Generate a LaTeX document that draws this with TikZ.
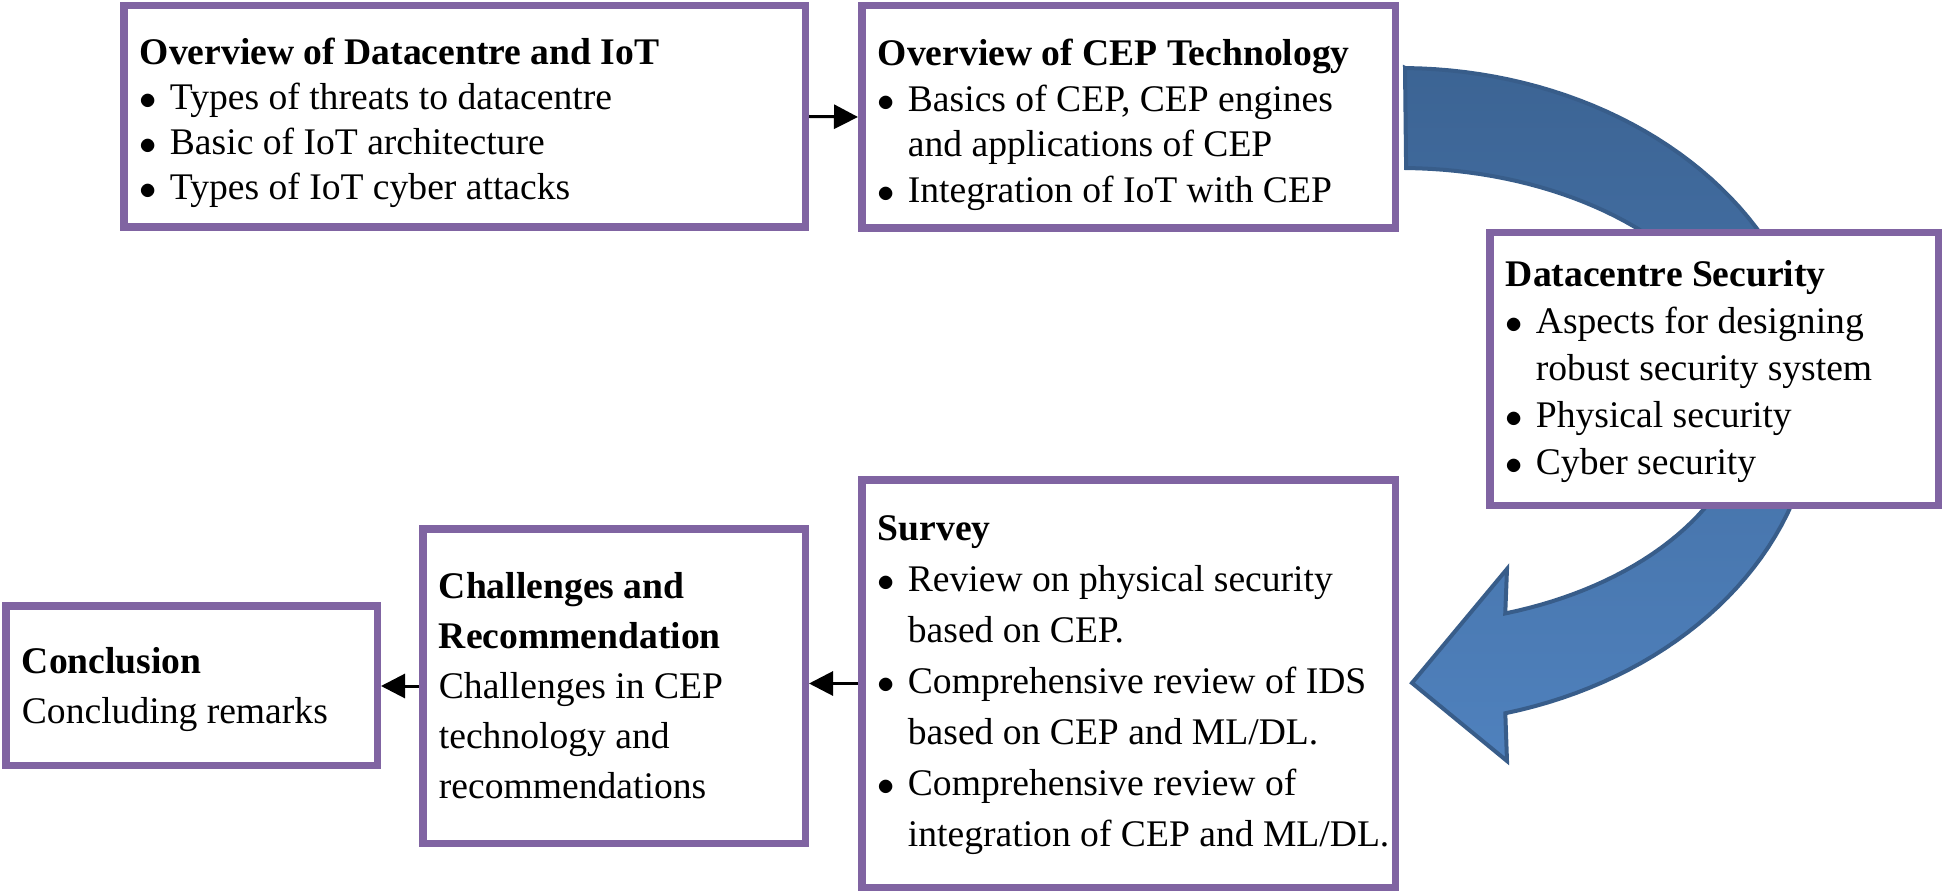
\documentclass[tikz,border=0pt]{standalone}
\usepackage{fontspec}
\setmainfont{Liberation Serif}
\usetikzlibrary{arrows.meta, positioning}

\definecolor{boxpurple}{HTML}{8064A2}
\definecolor{arrowdark}{HTML}{3C6494}
\definecolor{arrowlight}{HTML}{4F81BD}
\definecolor{arrowline}{HTML}{385D8A}

\newcommand{\itm}{\makebox[15pt][l]{$\bullet$}}
\newcommand{\cont}{\hspace*{15pt}}

\begin{document}
\begin{tikzpicture}[x=0.5pt, y=-0.5pt,
    box/.style={rectangle, draw=boxpurple, line width=3.75pt, fill=white, inner sep=0pt},
    txt/.style={inner sep=0pt, align=left, font=\fontsize{18.8}{22.5}\selectfont},
    conn/.style={line width=1.5pt, -{Triangle[length=12pt, width=12pt]}},
    bigarrow/.style={draw=arrowline, line width=2pt, top color=arrowdark, bottom color=arrowlight}
]
\useasboundingbox (0,0) rectangle (1945,893);

% curved arrow behind the boxes
\path[bigarrow] (1405,68)
    -- plot[domain=-89.3:75.3, samples=80] ({1400+415*cos(\x)},{396+328*sin(\x)})
    -- (1507,761) -- (1412,683) -- (1507,569)
    -- plot[domain=72.5:-89, samples=80] ({1400+350*cos(\x)},{396+228*sin(\x)})
    -- cycle;

% boxes
\node[box, minimum width=340.75pt, minimum height=110.75pt] (b1) at (464.5,116.5) {};
\node[box, minimum width=266.75pt, minimum height=111.25pt] (b2) at (1128.5,117) {};
\node[box, minimum width=224.25pt, minimum height=136.25pt] (b3) at (1714,369) {};
\node[box, minimum width=266.75pt, minimum height=203.75pt] (b4) at (1128.5,683.5) {};
\node[box, minimum width=191.25pt, minimum height=157.25pt] (b5) at (614,686) {};
\node[box, minimum width=185.75pt, minimum height=79.75pt] (b6) at (191.5,685.5) {};

% texts
\node[txt, right=9.75pt of b1.west, yshift=-3pt] (t1) {\textbf{Overview of Datacentre and IoT}\\
    \itm Types of threats to datacentre\\
    \itm Basic of IoT architecture\\
    \itm Types of IoT cyber attacks};
\node[txt, font=\fontsize{18.8}{22.75}\selectfont, right=9.75pt of b2.west, yshift=-4pt] (t2) {\textbf{Overview of CEP Technology}\\
    \itm Basics of CEP, CEP engines\\
    \cont and applications of CEP\\
    \itm Integration of IoT with CEP};
\node[txt, font=\fontsize{18.8}{23.5}\selectfont, right=9.75pt of b3.west, yshift=-1.5pt] (t3) {\textbf{Datacentre Security}\\
    \itm Aspects for designing\\
    \cont robust security system\\
    \itm Physical security\\
    \itm Cyber security};
\node[txt, font=\fontsize{18.8}{25.5}\selectfont, right=9.75pt of b4.west, yshift=-1pt] (t4) {\textbf{Survey}\\
    \itm Review on physical security\\
    \cont based on CEP.\\
    \itm Comprehensive review of IDS\\
    \cont based on CEP and ML/DL.\\
    \itm Comprehensive review of\\
    \cont integration of CEP and ML/DL.};
\node[txt, font=\fontsize{18.8}{25}\selectfont, right=9.75pt of b5.west] (t5) {\textbf{Challenges and}\\
    \textbf{Recommendation}\\
    Challenges in CEP\\
    technology and\\
    recommendations};
\node[txt, font=\fontsize{18.8}{25}\selectfont, right=9.75pt of b6.west, yshift=-2pt] (t6) {\textbf{Conclusion}\\
    Concluding remarks};

% connectors
\draw[conn] (b1.east) -- (b2.west);
\draw[conn] (b4.west) -- (b4.west -| b5.east);
\draw[conn] (b5.west) -- (b5.west -| b6.east);

\end{tikzpicture}
\end{document}
